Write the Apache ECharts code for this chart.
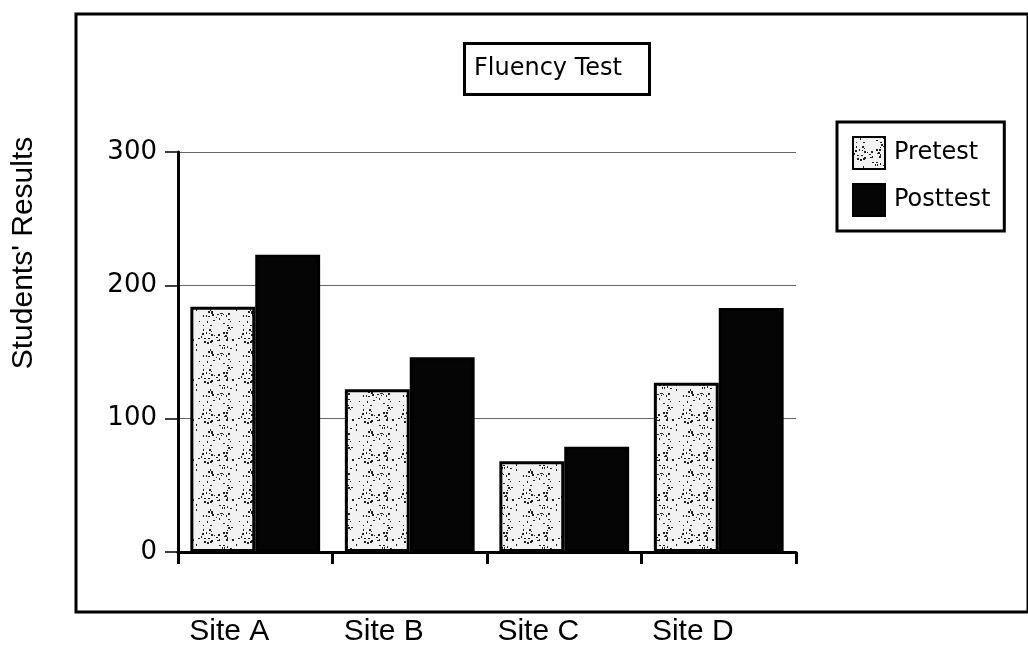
<!DOCTYPE html>
<html>
<head>
<meta charset="utf-8">
<script src="https://cdn.jsdelivr.net/npm/echarts@6/dist/echarts.min.js"></script>
<style>
html,body{margin:0;padding:0;background:#fff;}
#chart{width:1028px;height:647px;}
</style>
</head>
<body>
<div id="chart"></div>
<script>
// ---- data ----
const categories = ['Site A', 'Site B', 'Site C', 'Site D'];
const pretest = [184, 122, 68, 127];
const posttest = [223, 146, 79, 183];
const yTicks = [0, 100, 200, 300];
const seriesNames = ['Pretest', 'Posttest'];
const chartTitle = 'Fluency Test';
const yTitle = "Students' Results";

// ---- speckle texture for pretest bars (deterministic) ----
function makeSpeckle() {
  const c = document.createElement('canvas');
  c.width = 40; c.height = 40;
  const g = c.getContext('2d');
  g.fillStyle = '#f2f2f2';
  g.fillRect(0, 0, 40, 40);
  let s = 12345;
  function nxt() { s = (s * 1103515245 + 12345) % 2147483648; return s / 2147483648; }
  g.fillStyle = '#222';
  for (let i = 0; i < 70; i++) {
    const x = Math.floor(nxt() * 40), y = Math.floor(nxt() * 40);
    const w = 1 + Math.floor(nxt() * 2), h = 1 + Math.floor(nxt() * 2);
    g.fillRect(x, y, w, h);
  }
  return c;
}
const speckle = makeSpeckle();

const chart = echarts.init(document.getElementById('chart'), null, {renderer: 'canvas'});
const option = {
  animation: false,
  backgroundColor: '#fff',
  title: {
    text: chartTitle,
    left: 464,
    top: 43,
    borderColor: '#000',
    borderWidth: 3,
    padding: [12, 28, 12, 10],
    textStyle: {fontFamily: 'DejaVu Sans', fontSize: 24, fontWeight: 'normal', color: '#000', lineHeight: 28}
  },
  legend: {
    orient: 'vertical',
    left: 837,
    top: 122,
    data: seriesNames,
    icon: 'rect',
    itemWidth: 32,
    itemHeight: 32,
    itemGap: 13,
    padding: [14, 14, 14, 15],
    borderColor: '#000',
    borderWidth: 3,
    backgroundColor: '#fff',
    selectedMode: false,
    textStyle: {fontFamily: 'DejaVu Sans', fontSize: 24, color: '#000', padding: [6, 0, 0, 4]}
  },
  grid: {left: 178, right: 232, top: 152, bottom: 95, containLabel: false},
  xAxis: {
    type: 'category',
    data: categories,
    boundaryGap: true,
    axisLine: {show: true, lineStyle: {color: '#000', width: 3}},
    axisTick: {show: true, length: 12, lineStyle: {color: '#000', width: 3}},
    axisLabel: {
      margin: 65,
      fontFamily: 'Liberation Sans',
      fontSize: 30,
      color: '#000',
      padding: [0, 52, 0, 0]
    },
    splitLine: {show: false}
  },
  yAxis: {
    type: 'value',
    min: yTicks[0],
    max: yTicks[yTicks.length - 1],
    interval: 100,
    axisLine: {show: true, lineStyle: {color: '#000', width: 3}},
    axisTick: {show: true, length: 13, lineStyle: {color: '#000', width: 1.5}},
    axisLabel: {margin: 21, fontFamily: 'DejaVu Sans', fontSize: 26, color: '#000'},
    splitLine: {show: true, lineStyle: {color: '#666', width: 1}}
  },
  series: [
    {
      name: seriesNames[0],
      type: 'bar',
      data: pretest,
      barWidth: '42%',
      barGap: '0%',
      itemStyle: {color: {image: speckle, repeat: 'repeat'}, borderColor: '#000', borderWidth: 3}
    },
    {
      name: seriesNames[1],
      type: 'bar',
      data: posttest,
      barWidth: '42%',
      barGap: '0%',
      itemStyle: {color: '#050505', borderColor: '#000', borderWidth: 3}
    }
  ],
  graphic: [
    {
      type: 'rect',
      shape: {x: 76, y: 14, width: 952, height: 598},
      style: {fill: 'none', stroke: '#000', lineWidth: 3},
      z: -1
    },
    {
      type: 'text',
      x: 24,
      y: 253,
      rotation: Math.PI / 2,
      style: {
        text: yTitle,
        fontFamily: 'Liberation Sans',
        fontSize: 30,
        fill: '#000',
        textAlign: 'center',
        textVerticalAlign: 'middle'
      }
    }
  ]
};
chart.setOption(option);
</script>
</body>
</html>
